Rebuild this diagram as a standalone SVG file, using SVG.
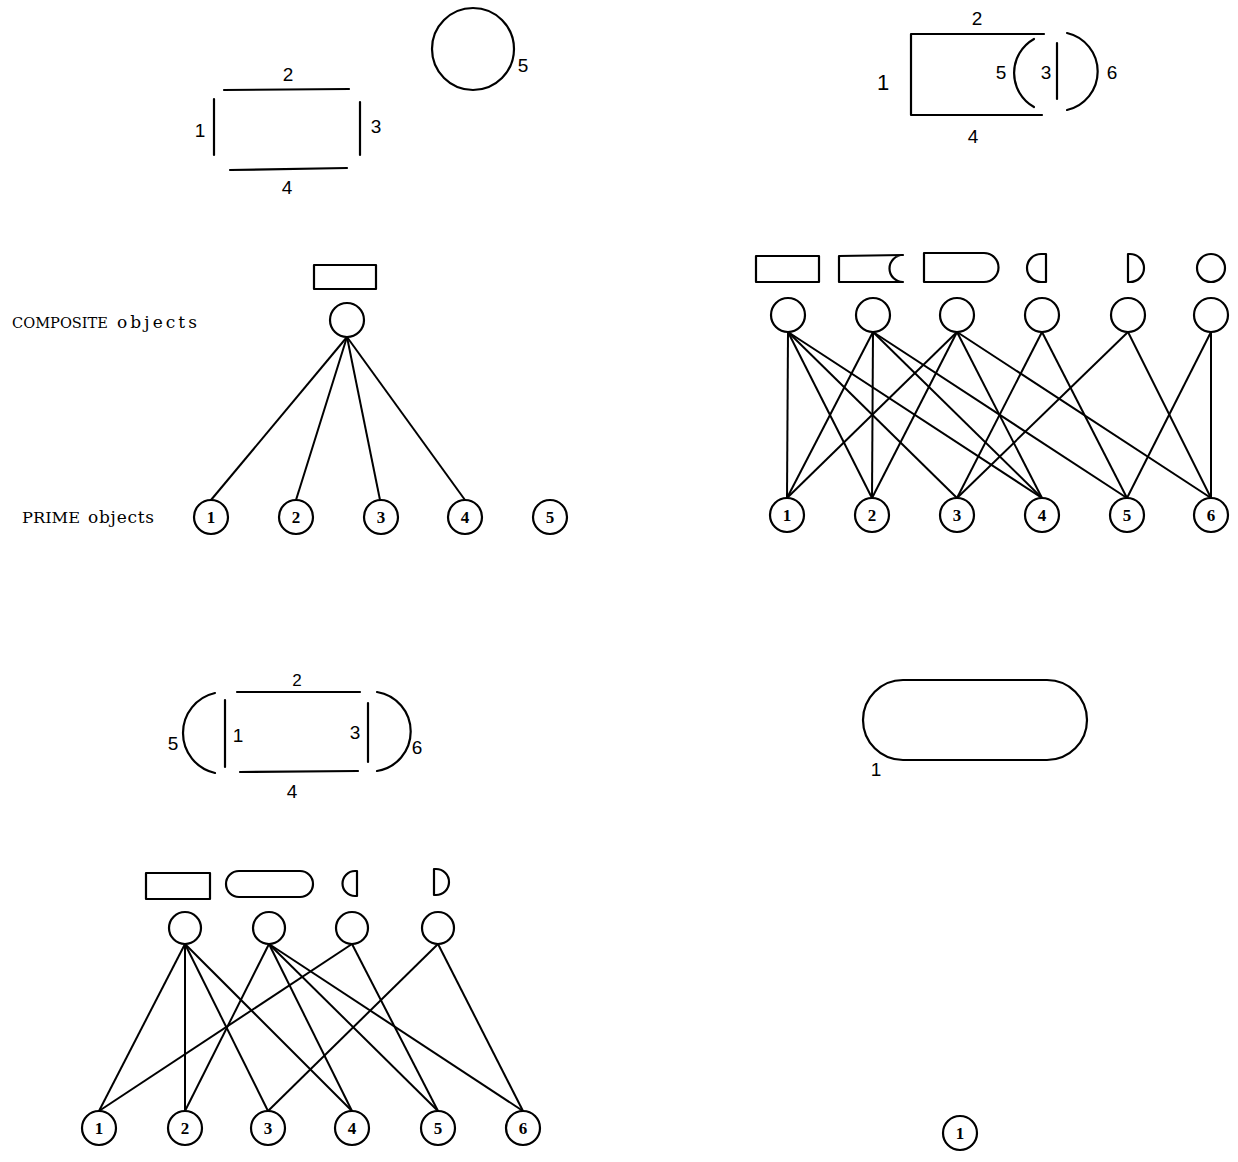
<svg xmlns="http://www.w3.org/2000/svg" width="1238" height="1162" viewBox="0 0 1238 1162">
<style>
.s{fill:none;stroke:#000;stroke-width:2.2;stroke-linecap:round;stroke-linejoin:round}
.e line{stroke:#000;stroke-width:2}
.c{fill:#fff;stroke:#000;stroke-width:2.2}
.num{font-family:"Liberation Serif",serif;font-weight:bold;font-size:17px;text-anchor:middle;fill:#000}
.hw{font-family:"Liberation Sans",sans-serif;font-size:19px;text-anchor:middle;fill:#000}
.lbl{font-family:"DejaVu Serif","Liberation Serif",serif;fill:#000}
</style>
<rect width="1238" height="1162" fill="#fff"/>

<!-- ===== Top-left: rectangle sides and circle ===== -->
<g id="shape-rect-sides">
  <line class="s" x1="214" y1="99" x2="214" y2="155"/>
  <line class="s" x1="224" y1="90" x2="349" y2="89"/>
  <line class="s" x1="360" y1="102" x2="360" y2="155"/>
  <line class="s" x1="230" y1="170" x2="347" y2="168"/>
  <text class="hw" x="288" y="81">2</text>
  <text class="hw" x="200" y="137">1</text>
  <text class="hw" x="376" y="133">3</text>
  <text class="hw" x="287" y="194">4</text>
</g>
<g id="shape-circle">
  <circle class="s" cx="473" cy="49" r="41"/>
  <text class="hw" x="523" y="72">5</text>
</g>

<!-- ===== Top-right: rectangle with arcs ===== -->
<g id="shape-rect-arcs">
  <path class="s" d="M1044,34 L911,34 L911,115 L1042,115"/>
  <path class="s" d="M1034,39 A39,39 0 0 0 1034,107"/>
  <line class="s" x1="1057" y1="43" x2="1057" y2="99"/>
  <path class="s" d="M1067,33 A39.5,39.5 0 0 1 1067,110"/>
  <text class="hw" x="977" y="25">2</text>
  <text class="hw" x="883" y="90" style="font-size:22px">1</text>
  <text class="hw" x="1001" y="79">5</text>
  <text class="hw" x="1046" y="79">3</text>
  <text class="hw" x="1112" y="79">6</text>
  <text class="hw" x="973" y="143">4</text>
</g>

<!-- ===== Top-left graph ===== -->
<g id="tl-labels">
  <text class="lbl" x="12" y="328" style="font-size:14px" textLength="96" lengthAdjust="spacingAndGlyphs">COMPOSITE</text>
  <text class="lbl" x="117" y="328" style="font-size:17px" textLength="80" lengthAdjust="spacing">objects</text>
  <text class="lbl" x="22" y="523" style="font-size:14px" textLength="58" lengthAdjust="spacingAndGlyphs">PRIME</text>
  <text class="lbl" x="88" y="523" style="font-size:17px" textLength="66" lengthAdjust="spacing">objects</text>
</g>
<g id="tl-connectors" class="e">
  <line x1="347" y1="337" x2="211" y2="500"/>
  <line x1="347" y1="337" x2="296" y2="500"/>
  <line x1="347" y1="337" x2="380" y2="500"/>
  <line x1="347" y1="337" x2="465" y2="500"/>
</g>
<g id="tl-composite-1">
  <rect class="s" x="314" y="265" width="62" height="24"/>
  <circle class="c" cx="347" cy="320" r="17"/>
</g>
<g id="tl-prime-1"><circle class="c" cx="211" cy="517" r="17"/><text class="num" x="211" y="523">1</text></g>
<g id="tl-prime-2"><circle class="c" cx="296" cy="517" r="17"/><text class="num" x="296" y="523">2</text></g>
<g id="tl-prime-3"><circle class="c" cx="381" cy="517" r="17"/><text class="num" x="381" y="523">3</text></g>
<g id="tl-prime-4"><circle class="c" cx="465" cy="517" r="17"/><text class="num" x="465" y="523">4</text></g>
<g id="tl-prime-5"><circle class="c" cx="550" cy="517" r="17"/><text class="num" x="550" y="523">5</text></g>

<!-- ===== Top-right graph ===== -->
<g id="tr-connectors" class="e">
  <line x1="788" y1="332" x2="787" y2="498"/>
  <line x1="788" y1="332" x2="872" y2="498"/>
  <line x1="788" y1="332" x2="957" y2="498"/>
  <line x1="788" y1="332" x2="1042" y2="498"/>
  <line x1="873" y1="332" x2="787" y2="498"/>
  <line x1="873" y1="332" x2="872" y2="498"/>
  <line x1="873" y1="332" x2="1042" y2="498"/>
  <line x1="873" y1="332" x2="1127" y2="498"/>
  <line x1="957" y1="332" x2="787" y2="498"/>
  <line x1="957" y1="332" x2="872" y2="498"/>
  <line x1="957" y1="332" x2="1042" y2="498"/>
  <line x1="957" y1="332" x2="1211" y2="498"/>
  <line x1="1042" y1="332" x2="957" y2="498"/>
  <line x1="1042" y1="332" x2="1127" y2="498"/>
  <line x1="1128" y1="332" x2="957" y2="498"/>
  <line x1="1128" y1="332" x2="1211" y2="498"/>
  <line x1="1211" y1="332" x2="1127" y2="498"/>
  <line x1="1211" y1="332" x2="1211" y2="498"/>
</g>
<g id="tr-composite-1">
  <rect class="s" x="756" y="256" width="63" height="26"/>
  <circle class="c" cx="788" cy="315" r="17"/>
</g>
<g id="tr-composite-2">
  <path class="s" d="M903,255 L839,256 L839,282 L903,282 A13.5,13.5 0 0 1 903,255"/>
  <circle class="c" cx="873" cy="315" r="17"/>
</g>
<g id="tr-composite-3">
  <path class="s" d="M924,253 L984,253 A14.5,14.5 0 0 1 984,282 L924,282 Z"/>
  <circle class="c" cx="957" cy="315" r="17"/>
</g>
<g id="tr-composite-4">
  <path class="s" d="M1046,254 L1041,254 A14,14 0 0 0 1041,282 L1046,282 Z"/>
  <circle class="c" cx="1042" cy="315" r="17"/>
</g>
<g id="tr-composite-5">
  <path class="s" d="M1128,254 L1130,254 A14,14 0 0 1 1130,282 L1128,282 Z"/>
  <circle class="c" cx="1128" cy="315" r="17"/>
</g>
<g id="tr-composite-6">
  <circle class="s" cx="1211" cy="268" r="14"/>
  <circle class="c" cx="1211" cy="315" r="17"/>
</g>
<g id="tr-prime-1"><circle class="c" cx="787" cy="515" r="17"/><text class="num" x="787" y="521">1</text></g>
<g id="tr-prime-2"><circle class="c" cx="872" cy="515" r="17"/><text class="num" x="872" y="521">2</text></g>
<g id="tr-prime-3"><circle class="c" cx="957" cy="515" r="17"/><text class="num" x="957" y="521">3</text></g>
<g id="tr-prime-4"><circle class="c" cx="1042" cy="515" r="17"/><text class="num" x="1042" y="521">4</text></g>
<g id="tr-prime-5"><circle class="c" cx="1127" cy="515" r="17"/><text class="num" x="1127" y="521">5</text></g>
<g id="tr-prime-6"><circle class="c" cx="1211" cy="515" r="17"/><text class="num" x="1211" y="521">6</text></g>

<!-- ===== Bottom-left shape ===== -->
<g id="shape-pill-sides">
  <line class="s" x1="237" y1="692" x2="360" y2="692"/>
  <line class="s" x1="240" y1="772" x2="358" y2="771"/>
  <line class="s" x1="225" y1="700" x2="225" y2="767"/>
  <line class="s" x1="368" y1="703" x2="368" y2="762"/>
  <path class="s" d="M215,693 A41,41 0 0 0 215,773"/>
  <path class="s" d="M377,692 A40,40 0 0 1 377,771"/>
  <text class="hw" x="297" y="686" style="font-size:17px">2</text>
  <text class="hw" x="173" y="750">5</text>
  <text class="hw" x="238" y="742">1</text>
  <text class="hw" x="355" y="739">3</text>
  <text class="hw" x="417" y="754">6</text>
  <text class="hw" x="292" y="798">4</text>
</g>

<!-- ===== Bottom-left graph ===== -->
<g id="bl-connectors" class="e">
  <line x1="185" y1="944" x2="99" y2="1111"/>
  <line x1="185" y1="944" x2="185" y2="1111"/>
  <line x1="185" y1="944" x2="268" y2="1111"/>
  <line x1="185" y1="944" x2="352" y2="1111"/>
  <line x1="269" y1="944" x2="185" y2="1111"/>
  <line x1="269" y1="944" x2="352" y2="1111"/>
  <line x1="269" y1="944" x2="438" y2="1111"/>
  <line x1="269" y1="944" x2="523" y2="1111"/>
  <line x1="352" y1="944" x2="99" y2="1111"/>
  <line x1="352" y1="944" x2="438" y2="1111"/>
  <line x1="438" y1="944" x2="268" y2="1111"/>
  <line x1="438" y1="944" x2="523" y2="1111"/>
</g>
<g id="bl-composite-1">
  <rect class="s" x="146" y="873" width="64" height="26"/>
  <circle class="c" cx="185" cy="928" r="16"/>
</g>
<g id="bl-composite-2">
  <rect class="s" x="226" y="871" width="87" height="26" rx="13" ry="13"/>
  <circle class="c" cx="269" cy="928" r="16"/>
</g>
<g id="bl-composite-3">
  <path class="s" d="M357,871 L355,871 A12.5,12.5 0 0 0 355,896 L357,896 Z"/>
  <circle class="c" cx="352" cy="928" r="16"/>
</g>
<g id="bl-composite-4">
  <path class="s" d="M434,869 L436,869 A13,13 0 0 1 436,895 L434,895 Z"/>
  <circle class="c" cx="438" cy="928" r="16"/>
</g>
<g id="bl-prime-1"><circle class="c" cx="99" cy="1128" r="17"/><text class="num" x="99" y="1134">1</text></g>
<g id="bl-prime-2"><circle class="c" cx="185" cy="1128" r="17"/><text class="num" x="185" y="1134">2</text></g>
<g id="bl-prime-3"><circle class="c" cx="268" cy="1128" r="17"/><text class="num" x="268" y="1134">3</text></g>
<g id="bl-prime-4"><circle class="c" cx="352" cy="1128" r="17"/><text class="num" x="352" y="1134">4</text></g>
<g id="bl-prime-5"><circle class="c" cx="438" cy="1128" r="17"/><text class="num" x="438" y="1134">5</text></g>
<g id="bl-prime-6"><circle class="c" cx="523" cy="1128" r="17"/><text class="num" x="523" y="1134">6</text></g>

<!-- ===== Bottom-right ===== -->
<g id="shape-stadium">
  <rect class="s" x="863" y="680" width="224" height="80" rx="40" ry="40"/>
  <text class="hw" x="876" y="776">1</text>
</g>
<g id="br-prime-1"><circle class="c" cx="960" cy="1133" r="17"/><text class="num" x="960" y="1139">1</text></g>
</svg>
